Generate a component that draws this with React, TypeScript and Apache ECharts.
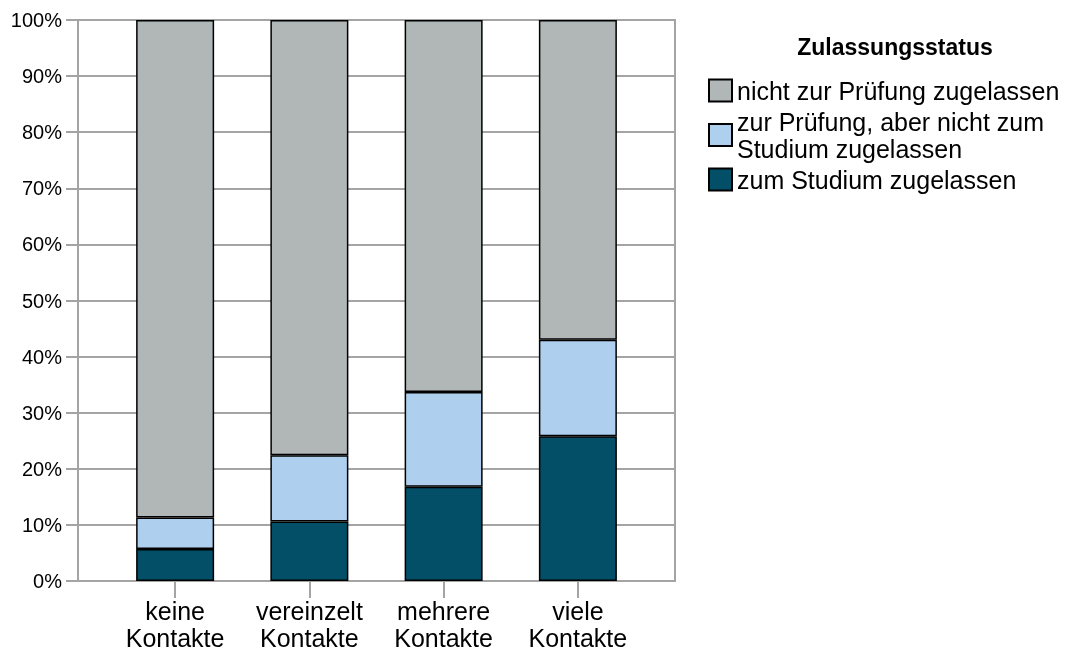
import React, { useEffect, useRef } from "react";
import * as echarts from "echarts";

const categories = ["keine\nKontakte", "vereinzelt\nKontakte", "mehrere\nKontakte", "viele\nKontakte"];
const seriesNames = [
  "zum Studium zugelassen",
  "zur Prüfung, aber nicht zum Studium zugelassen",
  "nicht zur Prüfung zugelassen",
];
const zumStudium = [5.7, 10.6, 16.8, 25.8];
const zurPruefung = [5.6, 11.8, 16.9, 17.2];
const nichtZugelassen = [88.7, 77.6, 66.3, 57.0];
const yTicks = [0, 10, 20, 30, 40, 50, 60, 70, 80, 90, 100];
const legendTitle = "Zulassungsstatus";

const colors = ["#034f67", "#aecfee", "#b1b6b6"];
const gridColor = "#a4a4a4";
const font = "'Liberation Sans', Arial, sans-serif";

export default function App() {
  const ref = useRef<HTMLDivElement>(null);
  useEffect(() => {
    if (!ref.current) return;
    const chart = echarts.init(ref.current, undefined, { renderer: "svg" });
    const values = [zumStudium, zurPruefung, nichtZugelassen];
    const yMin = yTicks[0];
    const yMax = yTicks[yTicks.length - 1];
    chart.setOption({
      animation: false,
      textStyle: { fontFamily: font },
      grid: [
        {
          left: 78,
          right: 399,
          top: 20,
          bottom: 74,
          show: true,
          borderColor: gridColor,
          borderWidth: 2,
        },
        {
          left: 108,
          right: 429,
          top: 20,
          bottom: 74,
        },
      ],
      graphic: [
        {
          type: "text",
          x: 895,
          y: 47,
          style: {
            text: legendTitle,
            align: "center",
            verticalAlign: "middle",
            font: `bold 23px ${font}`,
            fill: "#000",
          },
        },
      ],
      legend: {
        orient: "vertical",
        left: 703,
        top: 72,
        itemWidth: 23,
        itemHeight: 22,
        itemGap: 4,
        icon: "rect",
        data: [seriesNames[2], seriesNames[1], seriesNames[0]],
        formatter: (name: string) =>
          name === seriesNames[1] ? "zur Prüfung, aber nicht zum\nStudium zugelassen" : name,
        textStyle: { fontSize: 25, lineHeight: 27, color: "#000", fontFamily: font },
        itemStyle: { borderColor: "#000", borderWidth: 2 },
      },
      xAxis: [
        {
          gridIndex: 0,
          type: "category",
          data: categories,
          show: false,
        },
        {
          gridIndex: 1,
          type: "category",
          data: categories,
          axisLine: { show: false },
          axisTick: {
            show: true,
            interval: 0,
            alignWithLabel: true,
            length: 17,
            lineStyle: { color: gridColor, width: 2 },
          },
          axisLabel: {
            interval: 0,
            hideOverlap: false,
            fontSize: 25,
            lineHeight: 27,
            color: "#000",
            margin: 16,
            fontFamily: font,
          },
        },
      ],
      yAxis: [
        {
          gridIndex: 0,
          type: "value",
          min: yMin,
          max: yMax,
          interval: 10,
          axisLine: { show: true, lineStyle: { color: gridColor, width: 2 } },
          axisTick: { show: true, length: 12, lineStyle: { color: gridColor, width: 2 } },
          axisLabel: { formatter: "{value}%", fontSize: 20, color: "#000", margin: 16, fontFamily: font },
          splitLine: { lineStyle: { color: gridColor, width: 2 } },
        },
        {
          gridIndex: 1,
          type: "value",
          min: yMin,
          max: yMax,
          interval: 10,
          show: false,
          splitLine: { show: false },
        },
      ],
      series: seriesNames.map((name, i) => ({
        name,
        type: "bar",
        xAxisIndex: 1,
        yAxisIndex: 1,
        stack: "total",
        barWidth: 78,
        data: values[i],
        itemStyle: { color: colors[i], borderColor: "#000", borderWidth: 1.5 },
      })),
    });
    return () => chart.dispose();
  }, []);
  return <div ref={ref} style={{ position: "fixed", left: 0, top: 0, width: 1074, height: 655 }} />;
}
